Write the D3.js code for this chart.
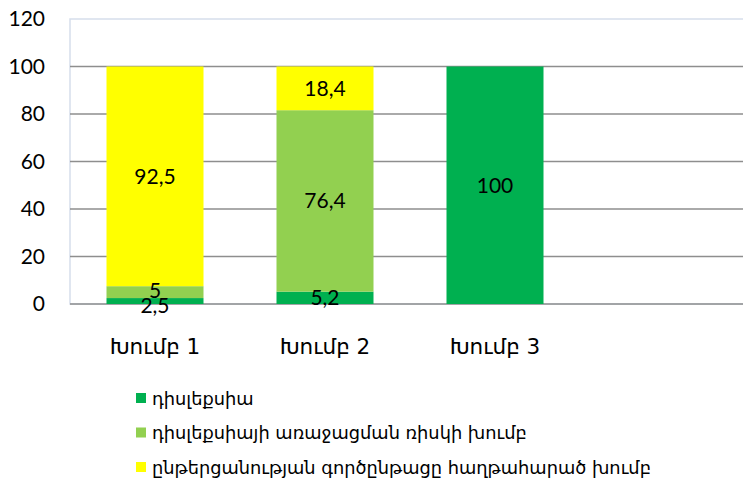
<!DOCTYPE html>
<html><head><meta charset="utf-8">
<script src="https://cdn.jsdelivr.net/npm/d3@7/dist/d3.min.js"></script>
<style>body{margin:0;background:#fff}svg{display:block}</style>
</head><body><svg id="c" width="743" height="484"></svg>
<script>
const categories = ["Խումբ 1", "Խումբ 2", "Խումբ 3", ""];
const seriesNames = ["դիսլեքսիա", "դիսլեքսիայի առաջացման ռիսկի խումբ", "ընթերցանության գործընթացը հաղթահարած խումբ"];
const dyslexia = [2.5, 5.2, 100, null];
const riskGroup = [5, 76.4, 0, null];
const overcame = [92.5, 18.4, 0, null];
const yTicks = [0, 20, 40, 60, 80, 100, 120];
const colors = ["#00B050", "#92D050", "#FFFF00"];

const svg = d3.select("#c");
const m = {l: 70, t: 19, r: 750, b: 304};
const x = d3.scaleBand().domain(categories).range([m.l, m.r]).paddingInner(0.43).paddingOuter(0.215);
const y = d3.scaleLinear().domain([0, 120]).range([m.b, m.t]);

// plot border
svg.append("rect").attr("x", m.l).attr("y", m.t).attr("width", m.r - m.l).attr("height", m.b - m.t)
  .attr("fill", "none").attr("stroke", "#D6DEEC").attr("stroke-width", 1.5);

// gridlines
svg.append("g").selectAll("line").data(yTicks.filter(d => d < 120)).join("line")
  .attr("x1", m.l).attr("x2", m.r).attr("y1", d => y(d)).attr("y2", d => y(d))
  .attr("stroke", "#8E8E8E").attr("stroke-width", 1.6);

// y axis labels
const yAxis = d3.axisLeft(y).tickValues(yTicks).tickSize(0).tickPadding(25);
const ya = svg.append("g").attr("transform", `translate(${m.l},0)`).call(yAxis);
ya.select(".domain").remove();
ya.selectAll("text").attr("font-family", "Lato, 'DejaVu Sans', sans-serif").attr("font-size", 21).attr("fill", "#000");

// stacked data
const rows = categories.map((c, i) => ({cat: c, s0: dyslexia[i], s1: riskGroup[i], s2: overcame[i]}));
const stack = d3.stack().keys(["s0", "s1", "s2"]).value((d, k) => d[k] || 0);
const stacked = stack(rows);

const bw = 97;
stacked.forEach((layer, li) => {
  svg.append("g").selectAll("rect").data(layer.filter(d => d.data.cat !== "" && d[1] - d[0] > 0)).join("rect")
    .attr("x", d => x(d.data.cat) + x.bandwidth() / 2 - bw / 2)
    .attr("width", bw)
    .attr("y", d => y(d[1]))
    .attr("height", d => y(d[0]) - y(d[1]))
    .attr("fill", colors[li]);
});
stacked.forEach((layer, li) => {
  svg.append("g").selectAll("text").data(layer.filter(d => d.data.cat !== "" && d[1] - d[0] > 0)).join("text")
    .attr("x", d => x(d.data.cat) + x.bandwidth() / 2)
    .attr("y", d => y((d[0] + d[1]) / 2) + 7.5 + (li === 0 && d[1] - d[0] < 3 ? 4 : 0) + (li === 1 && d[1] - d[0] < 6 ? -2 : 0))
    .attr("text-anchor", "middle")
    .attr("font-family", "Lato, 'DejaVu Sans', sans-serif").attr("font-size", 21).attr("fill", "#000")
    .text(d => String(Math.round((d[1] - d[0]) * 10) / 10).replace(".", ","));
});

// category labels
svg.append("g").selectAll("text").data(categories.filter(c => c !== "")).join("text")
  .attr("x", d => x(d) + x.bandwidth() / 2).attr("y", 354)
  .attr("text-anchor", "middle")
  .attr("font-family", "'DejaVu Sans', sans-serif").attr("font-size", 21.5).attr("fill", "#000")
  .text(d => d);

// legend
const lg = svg.append("g").selectAll("g").data(seriesNames).join("g")
  .attr("transform", (d, i) => `translate(136,${398 + i * 34.5})`);
lg.append("rect").attr("x", 0).attr("y", -5).attr("width", 10).attr("height", 10).attr("fill", (d, i) => colors[i]);
lg.append("text").attr("x", 16).attr("y", 6.5)
  .attr("font-family", "'DejaVu Sans', sans-serif").attr("font-size", 17.8).attr("fill", "#000")
  .text(d => d);
</script></body></html>
